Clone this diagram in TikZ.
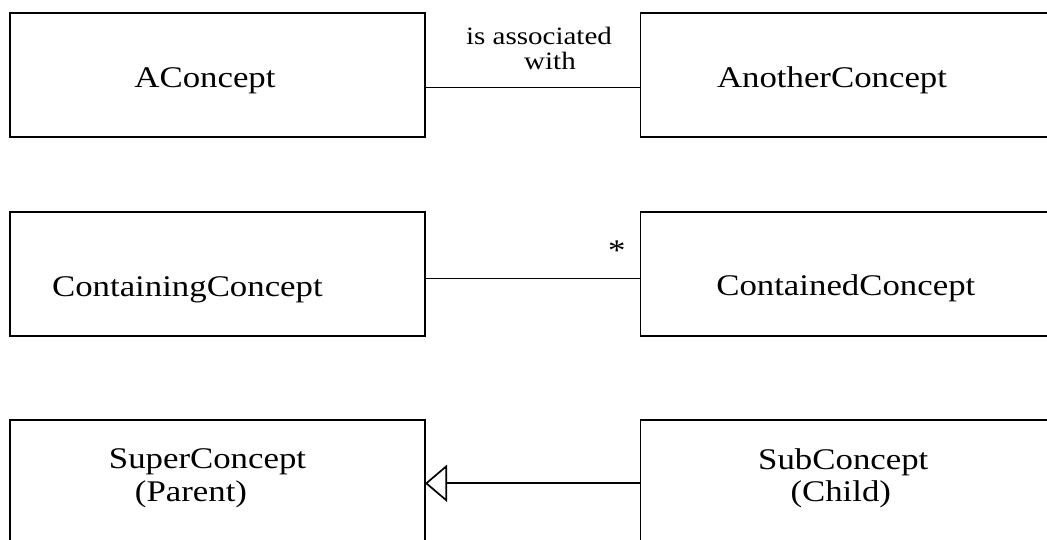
\documentclass[tikz,border=0pt]{standalone}
\usepackage{fontspec}
\setmainfont{Liberation Serif}[FakeStretch=1.16]
\usetikzlibrary{arrows.meta}
\begin{document}
\begin{tikzpicture}[x=1pt,y=-1pt,
  box/.style={draw,line width=1.7pt,rectangle,minimum width=#1,minimum height=124pt,inner sep=0pt,outer sep=0pt,anchor=north west},
  lbl/.style={anchor=base,inner sep=0pt,font=\fontsize{30}{36}\selectfont},
  small/.style={anchor=base,inner sep=0pt,font=\fontsize{25}{30}\selectfont},
  conn/.style={line width=1.7pt}]
\useasboundingbox (0,0) rectangle (1047,540);
\clip (0,0) rectangle (1047,540);
% row 1
\node[box=415pt] (a) at (10,12.7) {};
\node[box=430pt] (b) at (640.5,12.7) {};
\node[lbl] (ta) at (205,88) {AConcept};
\node[lbl] (tb) at (832,87.5) {AnotherConcept};
\draw[conn] ([yshift=-12.8pt]a.east) -- ([yshift=-12.8pt]a.east -| b.west);
\node[small] (l1) at (539,45) {is associated};
\node[small] (l2) at (550,70) {with};
% row 2
\node[box=415pt] (c) at (10,212.3) {};
\node[box=430pt] (d) at (640.5,212.3) {};
\node[lbl] (tc) at (187.4,296) {ContainingConcept};
\node[lbl] (td) at (845.8,295.5) {ContainedConcept};
\draw[conn] ([yshift=-4.2pt]c.east) -- ([yshift=-4.2pt]c.east -| d.west);
\node[lbl] (star) at (616.7,261) {*};
% row 3
\node[box=415pt,minimum height=140pt] (sup) at (10,420) {};
\node[box=430pt,minimum height=140pt] (sub) at (640.5,420) {};
\node[lbl] (te1) at (207.5,468.3) {SuperConcept};
\node[lbl] (te2) at (191,501.7) {(Parent)};
\node[lbl] (tf1) at (843.3,469.3) {SubConcept};
\node[lbl] (tf2) at (840.8,501.7) {(Child)};
\draw[conn,-{Triangle[open,length=22pt,width=37pt]}] ([yshift=6.7pt]sub.west) -- ([yshift=6.7pt]sub.west -| sup.east);
\end{tikzpicture}
\end{document}
